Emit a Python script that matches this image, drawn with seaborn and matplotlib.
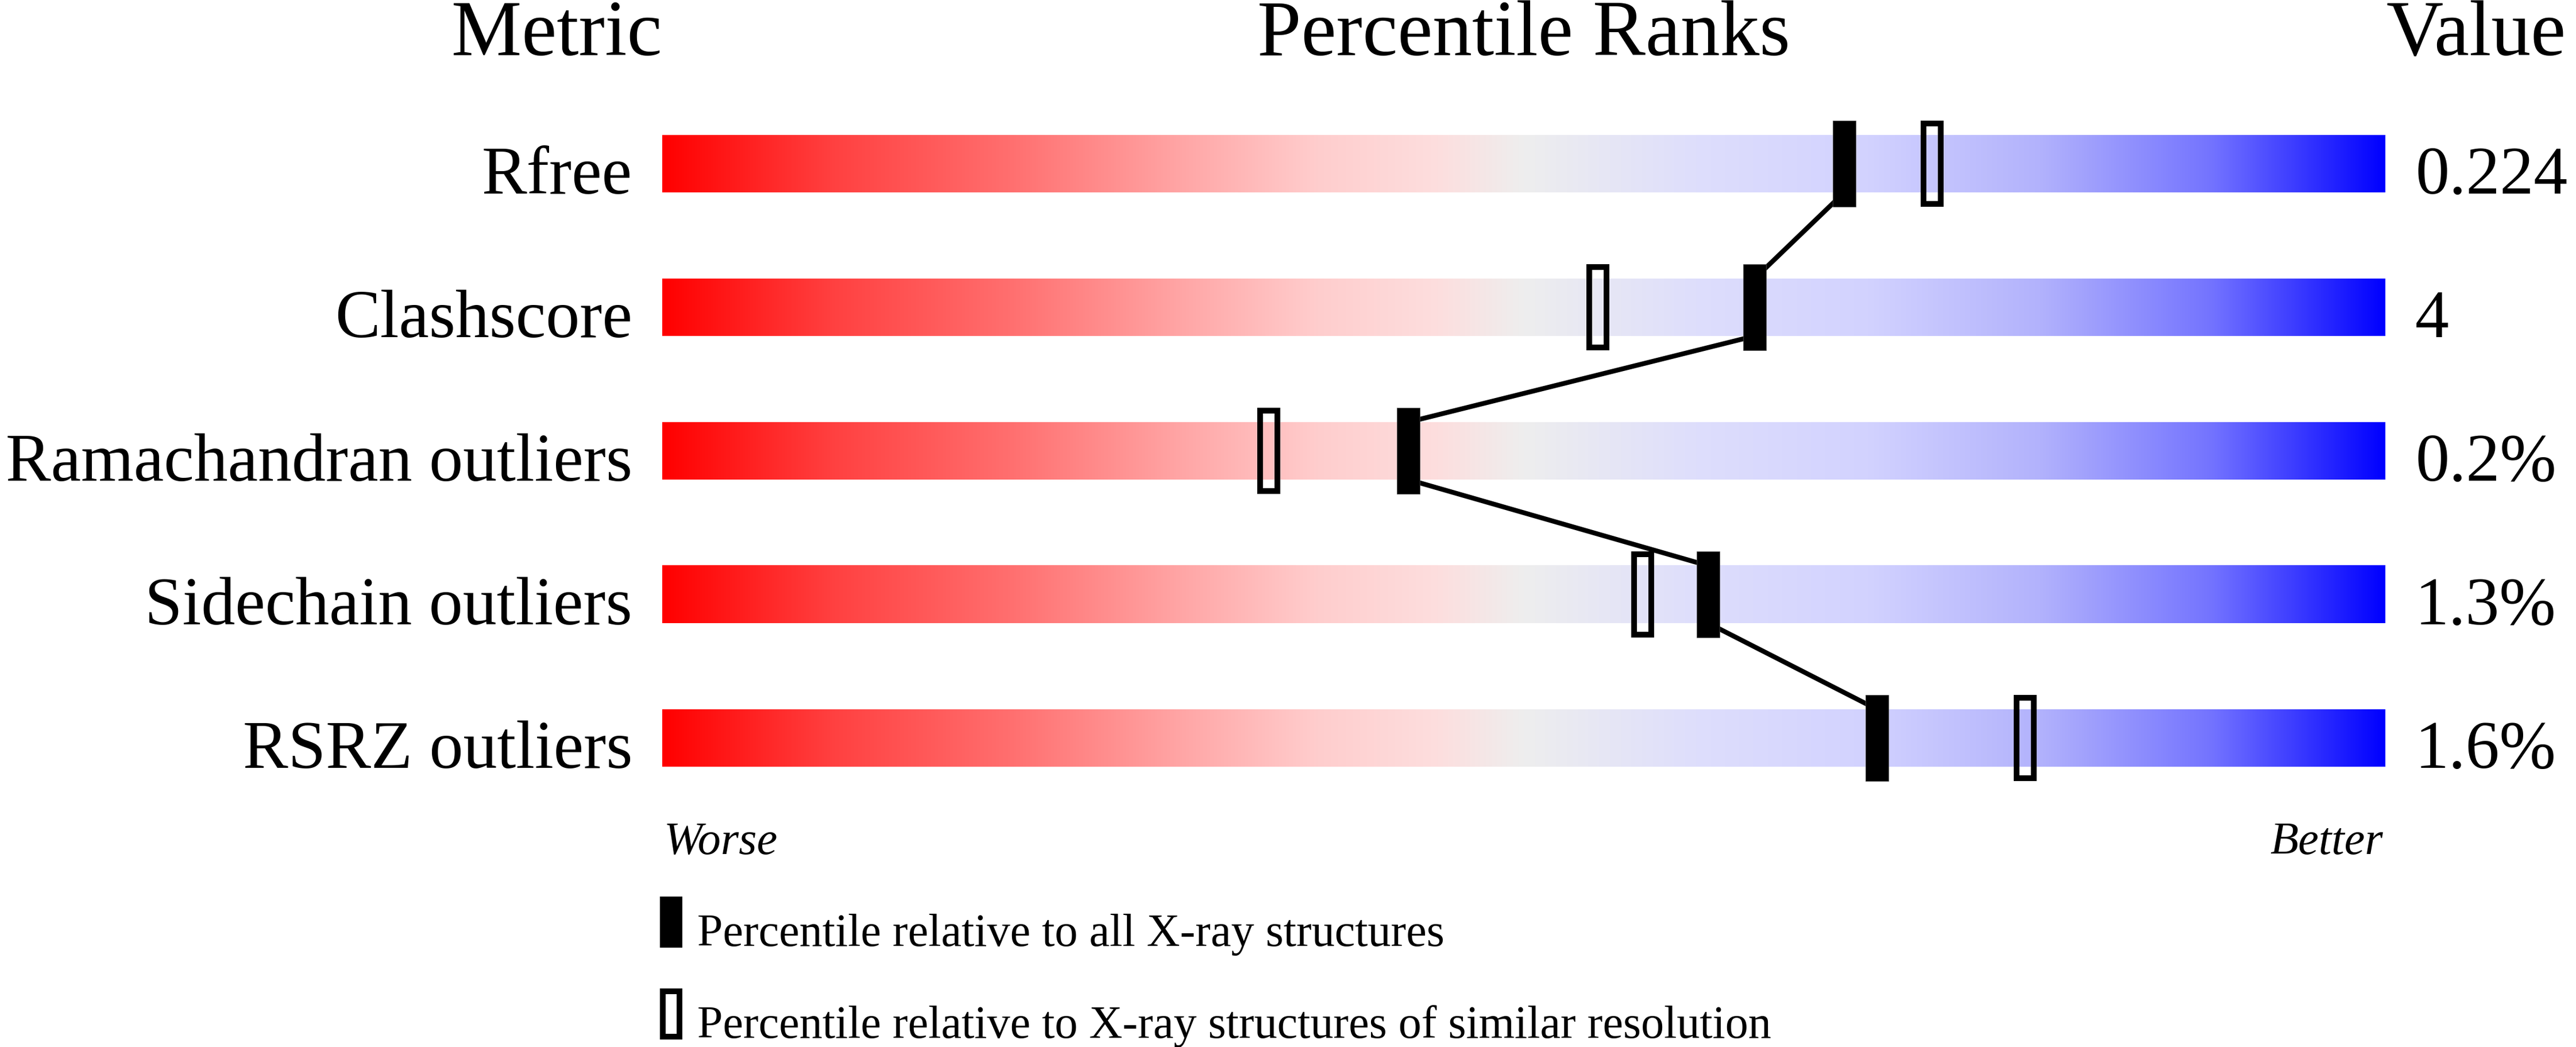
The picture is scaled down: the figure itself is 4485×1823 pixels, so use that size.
import numpy as np
import pandas as pd
import matplotlib
matplotlib.use("Agg")
import matplotlib.pyplot as plt
from matplotlib.patches import Rectangle
from matplotlib import font_manager
from matplotlib.font_manager import FontProperties
import seaborn as sns

# datos
metrics = ["Rfree", "Clashscore", "Ramachandran outliers", "Sidechain outliers", "RSRZ outliers"]
values = ["0.224", "4", "0.2%", "1.3%", "1.6%"]
pct_all = [68.6, 63.4, 43.3, 60.7, 70.5]        # relativo a todas las estructuras
pct_similar = [73.7, 54.3, 35.2, 56.9, 79.1]    # relativo a resolucion similar

W, H = 4485, 1824
BAR_L, BAR_R = 1153, 4153

sns.set_style("white")


# buscar el fichero de Liberation Serif directamente
def serif_file(style):
    for f in font_manager.fontManager.ttflist:
        if f.name == "Liberation Serif" and f.style == style and f.weight in (400, "normal", "regular"):
            return f.fname
    for f in font_manager.fontManager.ttflist:
        if f.name == "Liberation Serif" and f.style == style:
            return f.fname
    return None


REG = serif_file("normal")
ITA = serif_file("italic") or REG

fig = plt.figure(figsize=(W / 100, H / 100), dpi=100)
fig.patch.set_facecolor("white")

# eje: x = percentil, y = fila (centro de fila i en pixel 286 + 250 i)
ax = fig.add_axes([BAR_L / W, 0, (BAR_R - BAR_L) / W, 1])
ax.set_axis_off()

# degradado rojo -> gris -> azul
stops = [0.0, 0.10, 0.20, 0.30, 0.38, 0.45, 0.50, 0.60, 0.70, 0.80, 0.90, 1.0]
cols = np.array([
    (255, 0, 0), (255, 65, 65), (255, 110, 110), (255, 165, 165), (255, 205, 205),
    (253, 222, 222), (238, 238, 238), (222, 222, 252), (210, 210, 255),
    (178, 178, 252), (115, 115, 255), (0, 0, 255)]) / 255.0
t = np.linspace(0, 1, 1200)
grad = np.stack([np.interp(t, stops, cols[:, k]) for k in range(3)], axis=-1)[None, :, :]

rows = np.arange(len(metrics))
for r in rows:
    ax.imshow(grad, extent=(0, 100, r + 0.2, r - 0.2), aspect="auto",
              interpolation="bilinear", zorder=1)

# linea que une los percentiles (borde inferior de una barra -> borde superior de la siguiente)
line_df = pd.DataFrame({
    "pct": np.repeat(pct_all, 2),
    "row": np.ravel([[r - 0.2, r + 0.2] for r in rows]),
})
sns.lineplot(data=line_df, x="pct", y="row", sort=False, estimator=None,
             color="black", linewidth=6, ax=ax, zorder=2)

# marcadores
ax.bar(pct_all, 0.6, width=40 / 30, bottom=rows - 0.3, color="black",
       edgecolor="#555555", linewidth=0.5, zorder=3)
ax.bar(pct_similar, 0.56, width=1.0, bottom=rows - 0.28, fill=False,
       edgecolor="black", linewidth=7.2, zorder=3)

ax.set_xlim(0, 100)
ax.set_ylim((H - 286) / 250, -286 / 250)
ax.set_xlabel("")
ax.set_ylabel("")


def fx(x):
    return x / W


def fy(y):
    return 1 - y / H


def txt(x, y, s, size, ha="left", italic=False):
    path = ITA if italic else REG
    if path:
        fp = FontProperties(fname=path, size=size)
    else:
        fp = FontProperties(family="serif", style="italic" if italic else "normal", size=size)
    fig.text(fx(x), fy(y), s, ha=ha, va="baseline", fontproperties=fp, color="black")


# cabeceras
txt(BAR_L, 96, "Metric", 99, ha="right")
txt((BAR_L + BAR_R) / 2, 96, "Percentile Ranks", 99, ha="center")
txt(BAR_R + 2, 96, "Value", 99)

# etiquetas de fila y valores
for r, (m, v) in enumerate(zip(metrics, values)):
    base = 286 + 250 * r + 51
    txt(1101, base, m, 85, ha="right")
    txt(4205, base, v, 85)

txt(1156, 1487, "Worse", 58, italic=True)
txt(BAR_R - 4, 1487, "Better", 58, ha="right", italic=True)

# leyenda
fig.patches.append(Rectangle((fx(1149), fy(1651)), 39 / W, 89 / H, transform=fig.transFigure,
                             facecolor="black", edgecolor="none"))
fig.patches.append(Rectangle((fx(1154), fy(1806)), 29 / W, 79 / H, transform=fig.transFigure,
                             facecolor="none", edgecolor="black", linewidth=7.2))
txt(1214, 1647, "Percentile relative to all X-ray structures", 57.7)
txt(1214, 1807, "Percentile relative to X-ray structures of similar resolution", 57.7)

fig.savefig("out.png", dpi=100, facecolor="white")
